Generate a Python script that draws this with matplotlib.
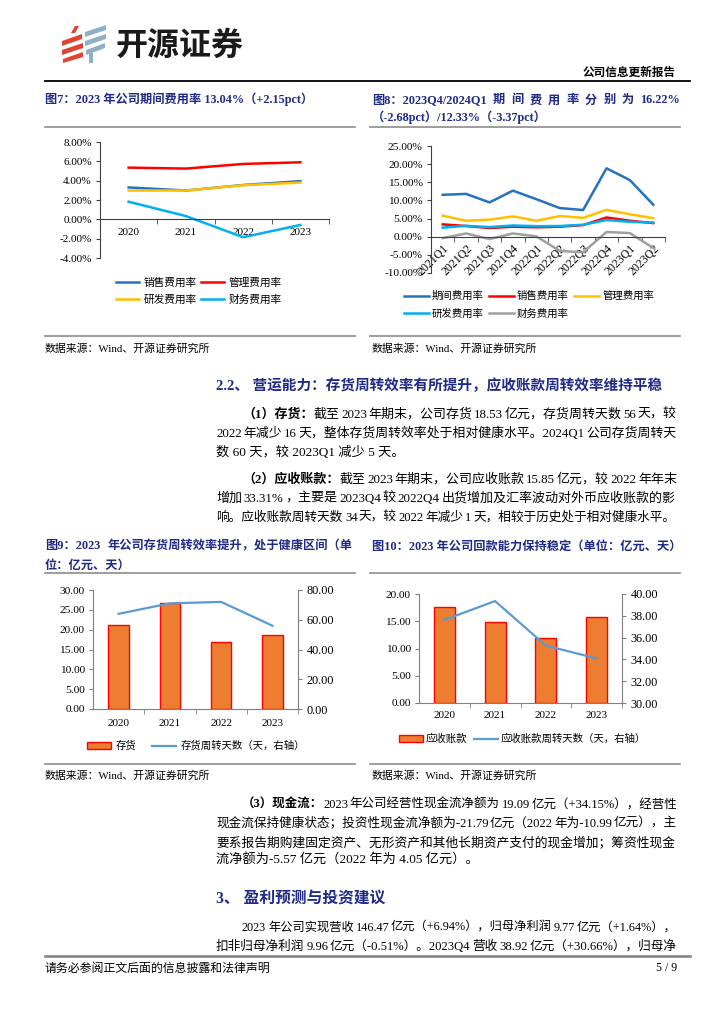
import numpy as np
import matplotlib
matplotlib.use('Agg')
import matplotlib.pyplot as plt
from matplotlib.lines import Line2D
from matplotlib.patches import Polygon
from matplotlib.ticker import FuncFormatter

FAM = ['Liberation Serif', 'Noto Sans CJK SC', 'DejaVu Sans']
plt.rcParams['font.family'] = FAM
plt.rcParams['axes.unicode_minus'] = False

# ---------------- data ----------------
years = ['2020', '2021', '2022', '2023']
sales_rate = [3.30, 2.98, 3.55, 3.95]
admin_rate = [5.35, 5.25, 5.73, 5.90]
rd_rate = [2.98, 2.98, 3.53, 3.80]
fin_rate = [1.82, 0.34, -1.85, -0.58]

quarters = ['2021Q1', '2021Q2', '2021Q3', '2021Q4', '2022Q1',
            '2022Q2', '2022Q3', '2022Q4', '2023Q1', '2023Q2']
q_period = [11.55, 11.8, 9.45, 12.7, 10.35, 7.9, 7.35, 18.85, 15.6, 8.8]
q_sales = [3.4, 2.95, 2.4, 2.75, 2.6, 2.75, 3.2, 5.3, 4.4, 3.75]
q_admin = [5.8, 4.4, 4.7, 5.6, 4.4, 5.7, 5.2, 7.4, 6.2, 5.1]
q_rd = [2.5, 3.0, 2.65, 3.1, 2.9, 2.95, 3.3, 4.6, 4.1, 3.9]
q_fin = [-0.4, 0.9, -0.65, 0.9, 0.1, -3.9, -4.3, 1.3, 1.0, -3.1]

inventory = [21.2, 26.7, 16.8, 18.53]
inv_days = [64, 71, 72, 56]
receivable = [17.6, 14.95, 11.88, 15.85]
rec_days = [37.63, 39.35, 35.26, 34.09]

# ---------------- page setup ----------------
W, H = 724, 1024
NAVY = '#1F2A88'
GRAY = '#8C8C8C'
fig = plt.figure(figsize=(W / 100, H / 100), dpi=100)
fig.patch.set_facecolor('white')
renderer = fig.canvas.get_renderer()


def fx(x):
    return x / W


def fy(y):
    return 1 - y / H


def add_ax(l, t, r, b):
    return fig.add_axes([fx(l), fy(b), (r - l) / W, (b - t) / H])


def hline(x0, x1, y, color=GRAY, lw=1.0):
    fig.add_artist(Line2D([fx(x0), fx(x1)], [fy(y), fy(y)],
                          transform=fig.transFigure, color=color, lw=lw))


def measure(s, size, weight):
    t = fig.text(0, 0, s, fontsize=size, fontweight=weight, family=FAM)
    w = t.get_window_extent(renderer=renderer).width
    t.remove()
    return w


def draw_line(segs, x0, yc, x1=None, size=9.5, color='black'):
    """Draw one text line (center y = yc, pixels); justify to x1 at spaces."""
    px = size * 100 / 72
    base = yc + 0.36 * px
    if x1 is None:
        x = x0
        for s, wt in segs:
            fig.text(fx(x), fy(base), s, fontsize=size, fontweight=wt,
                     color=color, family=FAM, ha='left', va='baseline')
            x += measure(s, size, wt) + (0.25 * px if s.endswith(' ') else 0)
        return
    toks = []
    for s, wt in segs:
        parts = s.split(' ')
        for i, p in enumerate(parts):
            if not p:
                continue
            toks.append([p, wt, i > 0 and len(toks) > 0])
    widths = [measure(p, size, wt) for p, wt, g in toks]
    ngaps = sum(1 for t in toks if t[2])
    space = 0.25 * px
    avail = x1 - x0
    tot = sum(widths)
    min_gap = 0.45 * space
    if ngaps > 0:
        gap = (avail - tot) / ngaps
        if gap < min_gap:
            sc = (avail - ngaps * min_gap) / tot
            size *= sc
            widths = [w * sc for w in widths]
            gap = min_gap
    else:
        gap = 0
        if tot > avail:
            sc = avail / tot
            size *= sc
            widths = [w * sc for w in widths]
    x = x0
    for (p, wt, g), w in zip(toks, widths):
        if g:
            x += gap
        fig.text(fx(x), fy(base), p, fontsize=size, fontweight=wt,
                 color=color, family=FAM, ha='left', va='baseline')
        x += w


# ---------------- header ----------------
red_polys = [
    [(71, 33), (75, 26), (79, 26), (75, 33)],
    [(62, 41), (82, 34), (82, 39), (62, 46)],
    [(62, 50), (83, 43), (83, 48), (62, 55)],
    [(63, 59), (83, 52), (83, 57), (63, 63)],
]
blue_polys = [
    [(85, 32), (106, 25), (106, 30), (85, 37)],
    [(85, 41), (106, 34), (106, 39), (85, 46)],
    [(86, 50), (105, 43), (105, 48), (86, 55)],
    [(89, 53), (93, 53), (93, 63), (89, 63)],
]
for pts in red_polys:
    fig.add_artist(Polygon([(fx(a), fy(b)) for a, b in pts], closed=True,
                           transform=fig.transFigure, color='#DD4530', lw=0))
for pts in blue_polys:
    fig.add_artist(Polygon([(fx(a), fy(b)) for a, b in pts], closed=True,
                           transform=fig.transFigure, color='#8EAFC6', lw=0))
fig.text(fx(116), fy(46), '开源证券', fontsize=23, fontweight='bold',
         family=['Noto Sans CJK SC'], color='#1A1A1A', ha='left', va='center')
fig.text(fx(676), fy(73), '公司信息更新报告', fontsize=8.4, fontweight='bold',
         color='black', ha='right', va='center')
hline(45, 690, 81, color='black', lw=1.3)

# ---------------- chart 7 ----------------
draw_line([('图7：2023 年公司期间费用率 13.04%（+2.15pct）', 'bold')], 45, 99,
          size=8.8, color=NAVY)
hline(45, 355, 127, lw=1.2)
ax7 = add_ax(100, 142, 329, 258)
x4 = np.arange(len(years))
h_s, = ax7.plot(x4, sales_rate, color='#2472C0', lw=1.8, label='销售费用率')
h_a, = ax7.plot(x4, admin_rate, color='#FF0000', lw=1.8, label='管理费用率')
h_r, = ax7.plot(x4, rd_rate, color='#FFC000', lw=1.8, label='研发费用率')
h_f, = ax7.plot(x4, fin_rate, color='#00B0F0', lw=1.8, label='财务费用率')
ax7.set_xlim(-0.5, len(years) - 0.5)
ax7.set_ylim(-4, 8)
ax7.spines['bottom'].set_position(('data', 0))
for s in ['top', 'right']:
    ax7.spines[s].set_visible(False)
for s in ['left', 'bottom']:
    ax7.spines[s].set_color('#404040')
    ax7.spines[s].set_linewidth(0.8)
ax7.set_yticks(np.arange(-4, 8.01, 2))
ax7.yaxis.set_major_formatter(FuncFormatter(lambda v, p: f'{v:.2f}%'))
ax7.set_xticks(x4)
ax7.set_xticklabels(years)
ax7.set_xticks(np.arange(0.5, len(years) - 0.4, 1), minor=True)
ax7.tick_params(axis='x', which='major', length=0, pad=6.5, labelsize=8)
ax7.tick_params(axis='x', which='minor', length=3.5, direction='out', color='#404040')
ax7.tick_params(axis='y', length=3, direction='out', pad=3, labelsize=8, color='#404040')
ax7.patch.set_alpha(0)
ax7.legend([h_s, h_r, h_a, h_f], ['销售费用率', '研发费用率', '管理费用率', '财务费用率'],
           ncol=2, loc='center', bbox_to_anchor=(fx(199), fy(291.5)),
           bbox_transform=fig.transFigure, frameon=False, borderpad=0,
           handlelength=2.15, handletextpad=0.45, columnspacing=0.4,
           labelspacing=0.6, prop={'size': 7.7})
hline(45, 355, 336, lw=1.2)
draw_line([('数据来源：Wind、开源证券研究所', 'normal')], 45, 348, size=7.8)

# ---------------- chart 8 ----------------
draw_line([('图8：2023Q4/2024Q1 期 间 费 用 率 分 别 为 16.22%', 'bold')], 372, 99,
          x1=680, size=8.8, color=NAVY)
draw_line([('（-2.68pct）/12.33%（-3.37pct）', 'bold')], 372, 117, size=8.8, color=NAVY)
hline(370, 680, 127, lw=1.2)
ax8 = add_ax(431, 146, 665, 273)
x10 = np.arange(len(quarters))
g_p, = ax8.plot(x10, q_period, color='#2472C0', lw=1.8, label='期间费用率')
g_s, = ax8.plot(x10, q_sales, color='#FF0000', lw=1.8, label='销售费用率')
g_a, = ax8.plot(x10, q_admin, color='#FFC000', lw=1.8, label='管理费用率')
g_r, = ax8.plot(x10, q_rd, color='#00B0F0', lw=1.8, label='研发费用率')
g_f, = ax8.plot(x10, q_fin, color='#A0A0A0', lw=1.8, label='财务费用率')
ax8.set_xlim(-0.5, len(quarters) - 0.5)
ax8.set_ylim(-10, 25)
ax8.spines['bottom'].set_position(('data', 0))
for s in ['top', 'right']:
    ax8.spines[s].set_visible(False)
for s in ['left', 'bottom']:
    ax8.spines[s].set_color('#404040')
    ax8.spines[s].set_linewidth(0.8)
ax8.set_yticks(np.arange(-10, 25.01, 5))
ax8.yaxis.set_major_formatter(FuncFormatter(lambda v, p: f'{v:.2f}%'))
ax8.set_xticks(x10)
ax8.set_xticklabels(quarters, rotation=45, ha='right', va='top', rotation_mode='anchor')
ax8.set_xticks(np.arange(0.5, len(quarters) - 0.4, 1), minor=True)
ax8.tick_params(axis='x', which='major', length=0, pad=4.3, labelsize=8.5)
ax8.tick_params(axis='x', which='minor', length=3.5, direction='out', color='#404040')
ax8.tick_params(axis='y', length=3, direction='out', pad=3, labelsize=8.2, color='#404040')
ax8.patch.set_alpha(0)
ax8.legend([g_p, g_r, g_s, g_f, g_a],
           ['期间费用率', '研发费用率', '销售费用率', '财务费用率', '管理费用率'],
           ncol=3, loc='center', bbox_to_anchor=(fx(529), fy(305)),
           bbox_transform=fig.transFigure, frameon=False, borderpad=0,
           handlelength=2.4, handletextpad=0.3, columnspacing=0.5,
           labelspacing=0.7, prop={'size': 7.5})
hline(370, 680, 336, lw=1.2)
draw_line([('数据来源：Wind、开源证券研究所', 'normal')], 372, 348, size=7.8)

# ---------------- section 2.2 text ----------------
XL, XI, XR = 216, 242, 677
draw_line([('2.2、 营运能力：存货周转效率有所提升，应收账款周转效率维持平稳', 'bold')],
          XL, 385, size=10.5, color=NAVY)
body = [
    ([('（1）存货：', 'bold'), ('截至 2023 年期末，公司存货 18.53 亿元，存货周转天数 56 天，较', 'normal')], XI, 413, True),
    ([('2022 年减少 16 天，整体存货周转效率处于相对健康水平。2024Q1 公司存货周转天', 'normal')], XL, 432, True),
    ([('数 60 天，较 2023Q1 减少 5 天。', 'normal')], XL, 451, False),
    ([('（2）应收账款：', 'bold'), ('截至 2023 年期末，公司应收账款 15.85 亿元，较 2022 年年末', 'normal')], XI, 478, True),
    ([('增加 33.31% ，主要是 2023Q4 较 2022Q4 出货增加及汇率波动对外币应收账款的影', 'normal')], XL, 497, True),
    ([('响。应收账款周转天数 34 天，较 2022 年减少 1 天，相较于历史处于相对健康水平。', 'normal')], XL, 516, True),
    ([('（3）现金流：', 'bold'), ('2023 年公司经营性现金流净额为 19.09 亿元（+34.15%），经营性', 'normal')], XI, 803, True),
    ([('现金流保持健康状态；投资性现金流净额为-21.79 亿元（2022 年为-10.99 亿元），主', 'normal')], XL, 822, True),
    ([('要系报告期购建固定资产、无形资产和其他长期资产支付的现金增加；筹资性现金', 'normal')], XL, 841, True),
    ([('流净额为-5.57 亿元（2022 年为 4.05 亿元）。', 'normal')], XL, 859, False),
    ([('2023 年公司实现营收 146.47 亿元（+6.94%），归母净利润 9.77 亿元（+1.64%），', 'normal')], XI, 926, True),
    ([('扣非归母净利润 9.96 亿元（-0.51%）。2023Q4 营收 38.92 亿元（+30.66%），归母净', 'normal')], XL, 945, True),
]
for segs, x0, yc, just in body:
    draw_line(segs, x0, yc, x1=XR if just else None, size=9.5)

draw_line([('3、 盈利预测与投资建议', 'bold')], XL, 898, size=11.3, color=NAVY)

# ---------------- chart 9 ----------------
draw_line([('图9：2023 年公司存货周转效率提升，处于健康区间（单', 'bold')], 45, 545,
          x1=353, size=8.8, color=NAVY)
draw_line([('位：亿元、天）', 'bold')], 45, 564, size=8.8, color=NAVY)
hline(45, 355, 573, lw=1.2)
ax9 = add_ax(93, 590, 298, 709)
b9 = ax9.bar(x4, inventory, width=0.4, color='#ED7D31', edgecolor='#FF0000',
             linewidth=1.0, label='存货', zorder=2)
ax9r = ax9.twinx()
l9, = ax9r.plot(x4, inv_days, color='#5B9BD5', lw=1.6, label='存货周转天数（天，右轴）')
ax9.set_xlim(-0.5, len(years) - 0.5)
ax9.set_ylim(0, 30)
ax9r.set_ylim(0, 80)
ax9.set_yticks(np.arange(0, 30.01, 5))
ax9r.set_yticks(np.arange(0, 80.01, 20))
ax9.yaxis.set_major_formatter(FuncFormatter(lambda v, p: f'{v:.2f}'))
ax9r.yaxis.set_major_formatter(FuncFormatter(lambda v, p: f'{v:.2f}'))
ax9.set_xticks(x4)
ax9.set_xticklabels(years)
ax9.set_xticks(np.arange(0.5, len(years) - 0.4, 1), minor=True)
for a in (ax9, ax9r):
    for s in a.spines.values():
        s.set_color('#808080')
        s.set_linewidth(0.8)
    a.spines['top'].set_visible(False)
ax9.spines['right'].set_visible(False)
ax9r.spines['left'].set_visible(False)
ax9r.spines['bottom'].set_visible(False)
ax9.tick_params(axis='x', which='major', length=0, pad=7, labelsize=8)
ax9.tick_params(axis='x', which='minor', length=3.5, direction='out', color='#808080')
ax9.tick_params(axis='y', length=3, direction='out', pad=3, labelsize=8.2, color='#808080')
ax9r.tick_params(axis='y', length=3, direction='out', pad=3, labelsize=8.8, color='#808080')
fig.legend([b9, l9], ['存货', '存货周转天数（天，右轴）'], ncol=2, loc='center',
           bbox_to_anchor=(fx(196.5), fy(746)), bbox_transform=fig.transFigure,
           frameon=False, borderpad=0, handlelength=2.3, handleheight=0.55,
           handletextpad=0.45, columnspacing=1.5, prop={'size': 7.5})
hline(45, 355, 764, lw=1.2)
draw_line([('数据来源：Wind、开源证券研究所', 'normal')], 45, 775, size=7.8)

# ---------------- chart 10 ----------------
draw_line([('图10：2023 年公司回款能力保持稳定（单位：亿元、天）', 'bold')], 372, 545,
          size=8.8, color=NAVY)
hline(370, 680, 573, lw=1.2)
ax10 = add_ax(419, 594, 622, 703)
b10 = ax10.bar(x4, receivable, width=0.41, color='#ED7D31', edgecolor='#FF0000',
               linewidth=1.0, label='应收账款', zorder=2)
ax10r = ax10.twinx()
l10, = ax10r.plot(x4, rec_days, color='#5B9BD5', lw=1.6, label='应收账款周转天数（天，右轴）')
ax10.set_xlim(-0.5, len(years) - 0.5)
ax10.set_ylim(0, 20)
ax10r.set_ylim(30, 40)
ax10.set_yticks(np.arange(0, 20.01, 5))
ax10r.set_yticks(np.arange(30, 40.01, 2))
ax10.yaxis.set_major_formatter(FuncFormatter(lambda v, p: f'{v:.2f}'))
ax10r.yaxis.set_major_formatter(FuncFormatter(lambda v, p: f'{v:.2f}'))
ax10.set_xticks(x4)
ax10.set_xticklabels(years)
ax10.set_xticks(np.arange(0.5, len(years) - 0.4, 1), minor=True)
for a in (ax10, ax10r):
    for s in a.spines.values():
        s.set_color('#808080')
        s.set_linewidth(0.8)
    a.spines['top'].set_visible(False)
ax10.spines['right'].set_visible(False)
ax10r.spines['left'].set_visible(False)
ax10r.spines['bottom'].set_visible(False)
ax10.tick_params(axis='x', which='major', length=0, pad=6, labelsize=8)
ax10.tick_params(axis='x', which='minor', length=3.5, direction='out', color='#808080')
ax10.tick_params(axis='y', length=3, direction='out', pad=3, labelsize=8.2, color='#808080')
ax10r.tick_params(axis='y', length=3, direction='out', pad=3, labelsize=8.8, color='#808080')
fig.legend([b10, l10], ['应收账款', '应收账款周转天数（天，右轴）'], ncol=2, loc='center',
           bbox_to_anchor=(fx(522.5), fy(739)), bbox_transform=fig.transFigure,
           frameon=False, borderpad=0, handlelength=2.3, handleheight=0.55,
           handletextpad=0.3, columnspacing=0.6, prop={'size': 7.5})
hline(370, 680, 764, lw=1.2)
draw_line([('数据来源：Wind、开源证券研究所', 'normal')], 372, 775, size=7.8)

# ---------------- footer ----------------
hline(45, 690, 956, color='#7F7F7F', lw=1.8)
draw_line([('请务必参阅正文后面的信息披露和法律声明', 'normal')], 45, 967, size=8.6)
fig.text(fx(677), fy(967 + 0.36 * 8.6 * 100 / 72), '5 / 9', fontsize=8.6,
         ha='right', va='baseline', family=FAM)

fig.savefig('out.png', dpi=100, facecolor='white')
